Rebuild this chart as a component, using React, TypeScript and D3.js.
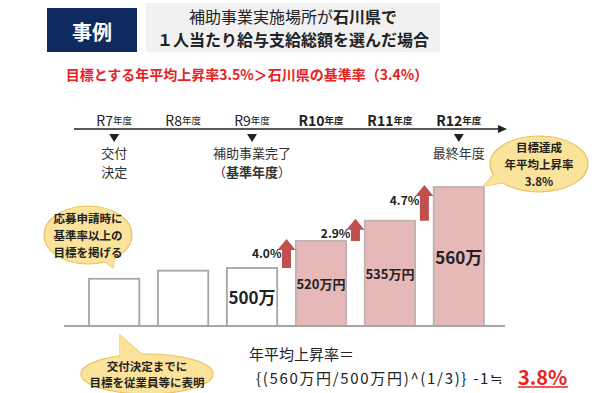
import { scaleBand, scaleLinear } from "d3";

const width = 600;
const height = 393;

// fiscal years on the timeline
const years = ["R7", "R8", "R9", "R10", "R11", "R12"];
// wage per head (万円); R7/R8 are unlabelled in the picture, estimated
const wages = [492, 498, 500, 520, 535, 560];
const wageLabels = ["", "", "500万", "520万円", "535万円", "560万"];
// year-on-year rise between R9→R10, R10→R11, R11→R12
const growth = ["4.0%", "2.9%", "4.7%"];
const milestones = [
  { year: "R7", lines: ["交付", "決定"] },
  { year: "R9", lines: ["補助事業完了", "（基準年度）"] },
  { year: "R12", lines: ["最終年度"] },
];

const JP = "'Noto Sans CJK JP', 'Noto Sans', sans-serif";
const navy = "#0f2a5f";
const red = "#e8231f";
const arrowRed = "#c0504d";
const pink = "#e6b9b8";
const balloonFill = "#fbe39c";
const balloonStroke = "#e9c35e";

const Balloon = ({ cx, cy, rx, ry, tail, lines, lineH }) => {
  const pts = tail.map((p) => p.join(",")).join(" ");
  const y0 = cy - ((lines.length - 1) * lineH) / 2;
  return (
    <g>
      <polygon points={pts} fill={balloonFill} stroke={balloonStroke} strokeWidth={1.2} />
      <ellipse cx={cx} cy={cy} rx={rx} ry={ry} fill={balloonFill} stroke={balloonStroke} strokeWidth={1.2} />
      <polygon points={pts} fill={balloonFill} />
      {lines.map((t, i) => (
        <text key={i} x={cx} y={y0 + i * lineH} textAnchor="middle" dominantBaseline="central"
          fontSize={11.5} fontWeight="bold" fill="#222">{t}</text>
      ))}
    </g>
  );
};

const App = () => {
  const x = scaleBand().domain(years).range([89, 484]).paddingInner(0.27).paddingOuter(0);
  const y = scaleLinear().domain([457, 560]).range([326, 187]);
  const bw = x.bandwidth();
  const gap = x.step() - bw;

  const axisY = 129;

  return (
    <svg width={width} height={height} style={{ position: "absolute", left: 0, top: 0, background: "#fff" }}
      fontFamily={JP}>
      {/* header */}
      <rect x={47} y={8} width={90} height={44} fill={navy} />
      <text x={92} y={31} textAnchor="middle" dominantBaseline="central" fill="#fff" fontSize={20} fontWeight="bold">事例</text>
      <rect x={146} y={3} width={294} height={49} fill="#f1f1f1" />
      <text x={293} y={15.5} textAnchor="middle" dominantBaseline="central" fontSize={16} fill="#222">
        補助事業実施場所が<tspan fontWeight="bold">石川県で</tspan>
      </text>
      <text x={293} y={39} textAnchor="middle" dominantBaseline="central" fontSize={16} fontWeight="bold" fill="#222">
        １人当たり給与支給総額を選んだ場合
      </text>
      <text x={247} y={74} textAnchor="middle" dominantBaseline="central" fontSize={14} fontWeight="bold" fill={red}>
        目標とする年平均上昇率3.5%＞石川県の基準率（3.4%）
      </text>

      {/* timeline */}
      <line x1={74} x2={500} y1={axisY} y2={axisY} stroke="#222" strokeWidth={1.5} />
      <polygon points={`498,${axisY - 4} 507,${axisY} 498,${axisY + 4}`} fill="#222" />
      {years.map((yr, i) => (
        <text key={yr} x={x(yr) + bw / 2} y={120} textAnchor="middle" dominantBaseline="central"
          fill="#222" fontWeight={i >= 3 ? "bold" : "normal"} fontSize={14}>
          {yr}<tspan fontSize={9.5}>年度</tspan>
        </text>
      ))}
      {milestones.map((m) => {
        const cx = x(m.year) + bw / 2;
        return (
          <g key={m.year}>
            <polygon points={`${cx - 5},${axisY + 5} ${cx + 5},${axisY + 5} ${cx},${axisY + 13}`} fill="#222" />
            {m.lines.map((t, i) => (
              <text key={i} x={cx} y={152 + i * 19} textAnchor="middle" dominantBaseline="central"
                fontSize={13} fill="#333">
                {t === "（基準年度）" ? (
                  <>（<tspan fontWeight="bold">基準年度</tspan>）</>
                ) : t}
              </text>
            ))}
          </g>
        );
      })}

      {/* bars */}
      {years.map((yr, i) => (
        <rect key={yr} x={x(yr)} y={y(wages[i])} width={bw} height={y.range()[0] - y(wages[i])}
          fill={i >= 3 ? pink : "#fff"} stroke={i >= 3 ? "#bdb3b3" : "#a6a6a6"} strokeWidth={1.8} />
      ))}
      {years.map((yr, i) =>
        wageLabels[i] ? (
          <text key={yr} x={x(yr) + bw / 2} y={(y(wages[i]) + y.range()[0]) / 2}
            textAnchor="middle" dominantBaseline="central" fontWeight="bold" fill="#222"
            fontSize={wageLabels[i].endsWith("円") ? 13 : 17}>
            {wageLabels[i]}
          </text>
        ) : null
      )}
      <line x1={64} x2={505} y1={326} y2={326} stroke="#a6a6a6" strokeWidth={2} />

      {/* growth arrows */}
      {growth.map((g, k) => {
        const i = k + 2;
        const cx = x(years[i]) + bw + gap / 2;
        const tail = y(wages[i]);
        const tip = y(wages[i + 1]) - 2;
        const hw = 9, sw = 4.5, hh = 11;
        const d = `M${cx},${tip} L${cx + hw},${tip + hh} L${cx + sw},${tip + hh} L${cx + sw},${tail} L${cx - sw},${tail} L${cx - sw},${tip + hh} L${cx - hw},${tip + hh} Z`;
        return (
          <g key={g}>
            <path d={d} fill={arrowRed} />
            <text x={cx - 5} y={tip + 14} textAnchor="end" dominantBaseline="central" fontSize={12}
              fontWeight="bold" fill="#222">{g}</text>
          </g>
        );
      })}

      {/* balloons */}
      <Balloon cx={88} cy={235} rx={44} ry={29} lineH={16.7}
        tail={[[98, 256], [116, 250], [113, 268]]}
        lines={["応募申請時に", "基準率以上の", "目標を掲げる"]} />
      <Balloon cx={147} cy={374} rx={66} ry={20} lineH={16.7}
        tail={[[120, 364], [146, 358], [120, 335]]}
        lines={["交付決定までに", "目標を従業員等に表明"]} />
      <Balloon cx={539} cy={164} rx={49} ry={28} lineH={16.7}
        tail={[[497, 170], [507, 182], [484, 186]]}
        lines={["目標達成", "年平均上昇率", "3.8%"]} />

      {/* formula */}
      <text x={249} y={353} dominantBaseline="central" fontSize={15} fill="#222">年平均上昇率＝</text>
      <text x={256} y={377} dominantBaseline="central" fontSize={15} fill="#222"
        textLength={247} lengthAdjust="spacing">
        {"{(560万円/500万円)^(1/3)} -1≒"}
      </text>
      <text x={518} y={376} dominantBaseline="central" fontSize={20} fontWeight="bold" fill={red}>3.8%</text>
      <line x1={518} x2={568} y1={387} y2={387} stroke={red} strokeWidth={1.5} />
    </svg>
  );
};

export default App;
